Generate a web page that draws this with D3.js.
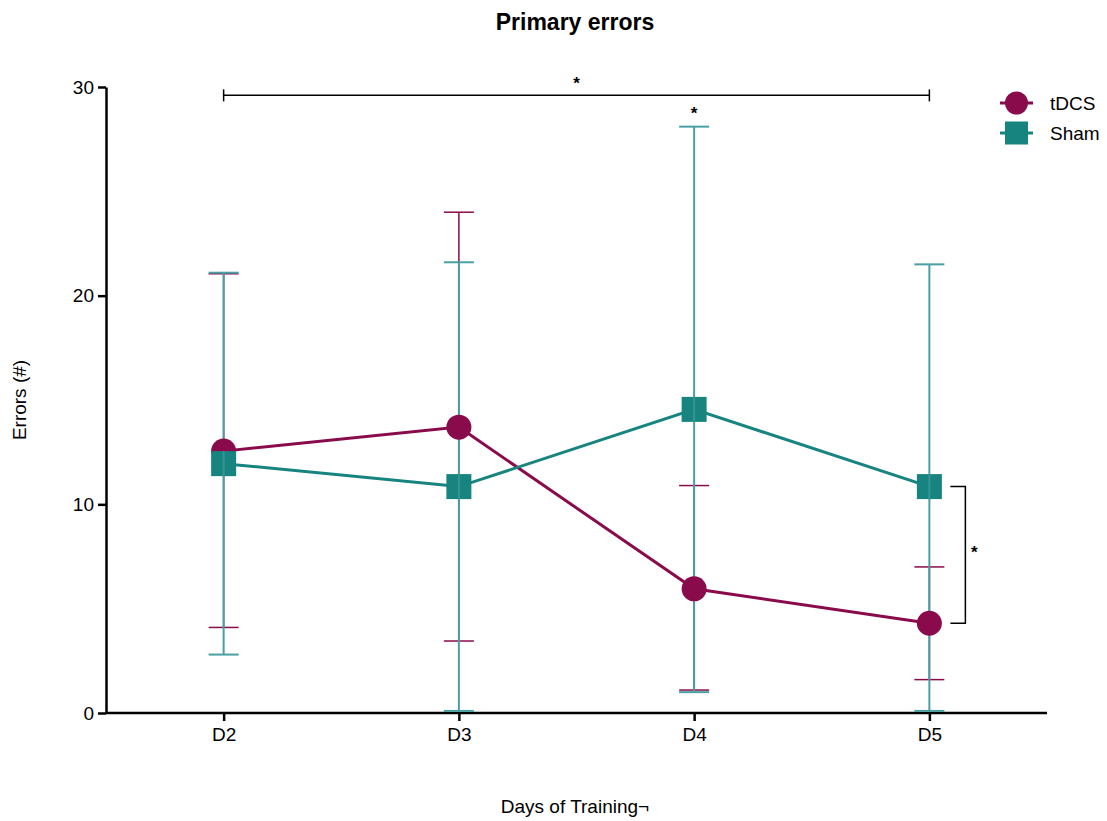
<!DOCTYPE html>
<html>
<head>
<meta charset="utf-8">
<script src="https://cdn.jsdelivr.net/npm/d3@7"></script>
<style>
  body { margin: 0; background: #fff; }
  svg { font-family: "Liberation Sans", Arial, sans-serif; }
</style>
</head>
<body>
<div id="chart"></div>
<script>
// values
const days = ["D2", "D3", "D4", "D5"];
const tdcsMean = [12.55, 13.7, 5.95, 4.3];
const tdcsUpper = [21.05, 24.0, 10.9, 7.0];
const tdcsLower = [4.1, 3.45, 1.1, 1.6];
const shamMean = [11.95, 10.85, 14.55, 10.85];
const shamUpper = [21.1, 21.6, 28.1, 21.5];
const shamLower = [2.8, 0.1, 1.0, 0.1];
const yTicks = [0, 10, 20, 30];

const width = 1107;
const height = 821;
const plotLeft = 106, plotRight = 1047, plotTop = 87, plotBottom = 713;

const tdcsColor = "#8a0b4b";
const shamColor = "#17847f";
const shamErrColor = "#4a9fa3";

const svg = d3
  .select("#chart")
  .append("svg")
  .attr("width", width)
  .attr("height", height);

const x = d3.scalePoint().domain(days).range([plotLeft, plotRight]).padding(0.5);
const y = d3.scaleLinear().domain([0, 30]).range([plotBottom, plotTop]);

// title + axis labels
svg.append("text")
  .attr("x", 575).attr("y", 30)
  .attr("text-anchor", "middle")
  .style("font-size", "23px").style("font-weight", "bold")
  .text("Primary errors");

svg.append("text")
  .attr("transform", "translate(26,400) rotate(-90)")
  .attr("text-anchor", "middle")
  .style("font-size", "19px")
  .text("Errors (#)");

svg.append("text")
  .attr("x", 575).attr("y", 813)
  .attr("text-anchor", "middle")
  .style("font-size", "19px")
  .text("Days of Training¬");

// axes
const yAxis = svg.append("g")
  .attr("transform", `translate(${plotLeft},0)`)
  .call(d3.axisLeft(y).tickValues(yTicks).tickSize(8).tickPadding(4).tickSizeOuter(0));
const xAxis = svg.append("g")
  .attr("transform", `translate(0,${plotBottom})`)
  .call(d3.axisBottom(x).tickSize(8).tickPadding(7).tickSizeOuter(0));
xAxis.select(".domain").attr("d", `M${plotLeft},0H${plotRight}`);

[xAxis, yAxis].forEach((a) => {
  a.select(".domain").attr("stroke", "#000").attr("stroke-width", 2.5);
  a.selectAll(".tick line").attr("stroke", "#000").attr("stroke-width", 2.5);
  a.selectAll(".tick text")
    .attr("fill", "#000")
    .style("font-size", "19px")
    .style("font-family", "'Liberation Sans', Arial, sans-serif");
});

const capW = 15;

let drawErrors = (upper, lower, color, sw) => {
  const g = svg.append("g").attr("stroke", color).attr("stroke-width", sw).attr("fill", "none");
  days.forEach((d, i) => {
    const cx = x(d);
    g.append("line").attr("x1", cx).attr("x2", cx).attr("y1", y(upper[i])).attr("y2", y(lower[i]));
    g.append("line").attr("x1", cx - capW).attr("x2", cx + capW).attr("y1", y(upper[i])).attr("y2", y(upper[i]));
    g.append("line").attr("x1", cx - capW).attr("x2", cx + capW).attr("y1", y(lower[i])).attr("y2", y(lower[i]));
  });
};

drawErrors(tdcsUpper, tdcsLower, tdcsColor, 1.5);
drawErrors(shamUpper, shamLower, shamErrColor, 2);

const line = d3.line().x((d, i) => x(days[i])).y((d) => y(d));

svg.append("path")
  .datum(tdcsMean)
  .attr("d", line)
  .attr("fill", "none")
  .attr("stroke", tdcsColor)
  .attr("stroke-width", 3);

svg.selectAll(".tdcs-pt")
  .data(tdcsMean)
  .enter()
  .append("circle")
  .attr("class", "tdcs-pt")
  .attr("cx", (d, i) => x(days[i]))
  .attr("cy", (d) => y(d))
  .attr("r", 12.5)
  .attr("fill", tdcsColor);

svg.append("path")
  .datum(shamMean)
  .attr("d", line)
  .attr("fill", "none")
  .attr("stroke", shamColor)
  .attr("stroke-width", 3);

const sq = 25;
svg.selectAll(".sham-pt")
  .data(shamMean)
  .enter()
  .append("rect")
  .attr("class", "sham-pt")
  .attr("x", (d, i) => x(days[i]) - sq / 2)
  .attr("y", (d) => y(d) - sq / 2)
  .attr("width", sq)
  .attr("height", sq)
  .attr("fill", shamColor);

// sham error line passes over the markers
svg.append("g")
  .attr("stroke", shamErrColor).attr("stroke-width", 2)
  .selectAll("line")
  .data(shamMean)
  .enter()
  .append("line")
  .attr("x1", (d, i) => x(days[i]))
  .attr("x2", (d, i) => x(days[i]))
  .attr("y1", (d) => y(d) - sq / 2)
  .attr("y2", (d) => y(d) + sq / 2)
  .attr("opacity", 0.6);

// significance marks
const sig = svg.append("g").attr("stroke", "#000").attr("stroke-width", 1.5).attr("fill", "none");
const by = y(29.6);
sig.append("line").attr("x1", x("D2")).attr("x2", x("D5")).attr("y1", by).attr("y2", by);
sig.append("line").attr("x1", x("D2")).attr("x2", x("D2")).attr("y1", by - 6).attr("y2", by + 6);
sig.append("line").attr("x1", x("D5")).attr("x2", x("D5")).attr("y1", by - 6).attr("y2", by + 6);

const bx = x("D5") + 36;
sig.append("path")
  .attr("d", `M${bx - 15},${y(shamMean[3])}H${bx}V${y(tdcsMean[3])}H${bx - 15}`);

let star = (sx, sy) => {
  svg.append("text")
    .attr("x", sx).attr("y", sy)
    .attr("text-anchor", "middle")
    .style("font-size", "17px").style("font-weight", "bold")
    .text("*");
};
star((x("D2") + x("D5")) / 2, 89);
star(x("D4"), 119);
star(bx + 9, 558);

// legend
const legend = svg.append("g").attr("transform", "translate(1000,103)");
legend.append("line").attr("x1", 0).attr("x2", 33).attr("y1", 0).attr("y2", 0)
  .attr("stroke", tdcsColor).attr("stroke-width", 3);
legend.append("circle").attr("cx", 16.5).attr("cy", 0).attr("r", 11.5).attr("fill", tdcsColor);
legend.append("text").attr("x", 50).attr("y", 7).style("font-size", "19px").text("tDCS");
legend.append("line").attr("x1", 0).attr("x2", 33).attr("y1", 30).attr("y2", 30)
  .attr("stroke", shamColor).attr("stroke-width", 3);
legend.append("rect").attr("x", 5).attr("y", 18.5).attr("width", 23).attr("height", 23).attr("fill", shamColor);
legend.append("text").attr("x", 50).attr("y", 37).style("font-size", "19px").text("Sham");
</script>
</body>
</html>
